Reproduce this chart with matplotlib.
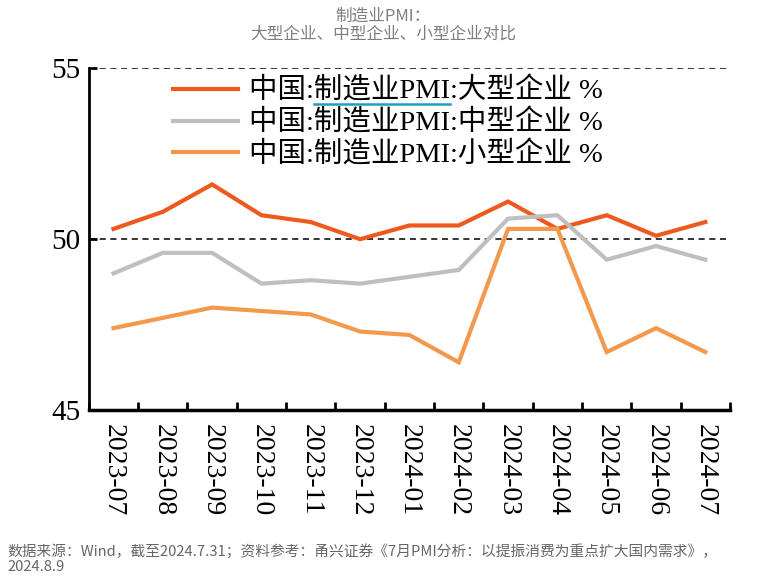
import matplotlib.pyplot as plt
from matplotlib.lines import Line2D

plt.rcParams['font.family'] = ['Liberation Serif', 'Noto Sans CJK SC']

# ---------- Data ----------
months = ["2023-07", "2023-08", "2023-09", "2023-10", "2023-11", "2023-12", "2024-01",
          "2024-02", "2024-03", "2024-04", "2024-05", "2024-06", "2024-07"]
large = [50.3, 50.8, 51.6, 50.7, 50.5, 50.0, 50.4, 50.4, 51.1, 50.3, 50.7, 50.1, 50.5]
medium = [49.0, 49.6, 49.6, 48.7, 48.8, 48.7, 48.9, 49.1, 50.6, 50.7, 49.4, 49.8, 49.4]
small = [47.4, 47.7, 48.0, 47.9, 47.8, 47.3, 47.2, 46.4, 50.3, 50.3, 46.7, 47.4, 46.7]
labels = ["中国:制造业PMI:大型企业 %", "中国:制造业PMI:中型企业 %", "中国:制造业PMI:小型企业 %"]
colors = ["#EE5A1E", "#BFBFBF", "#F2994E"]

title = "制造业PMI：\n大型企业、中型企业、小型企业对比"
source = "数据来源：Wind，截至2024.7.31；资料参考：甬兴证券《7月PMI分析：以提振消费为重点扩大国内需求》，\n2024.8.9"

# ---------- Plot ----------
fig = plt.figure(figsize=(7.66, 5.77), dpi=100)
ax = fig.add_axes([0.116, 0.289, 0.837, 0.593])

x = list(range(len(months)))
for ys, lab, c in zip([large, medium, small], labels, colors):
    ax.plot(x, ys, color=c, lw=3, label=lab, solid_joinstyle="miter")

for yv in (50, 55):
    ax.axhline(yv, color="black", lw=1.1, ls=(0, (4, 3)), zorder=0)

ax.set_xlim(-0.5, 12.5)
ax.set_ylim(45, 55)
ax.set_yticks([45, 50, 55])
ax.set_yticklabels(["45", "50", "55"], fontsize=21)
ax.set_xticks(x)
ax.set_xticklabels(months, rotation=270, fontsize=20)
ax.tick_params(axis="x", which="major", length=0, pad=10)
ax.set_xticks([i + 0.5 for i in range(-1, len(months))], minor=True)
ax.tick_params(axis="x", which="minor", direction="in", length=6, width=2)
ax.tick_params(axis="y", direction="in", length=6, width=2, pad=6)

for s in ("top", "right"):
    ax.spines[s].set_visible(False)
ax.spines["left"].set_linewidth(2)
ax.spines["bottom"].set_linewidth(2.5)

leg = ax.legend(loc="upper left", bbox_to_anchor=(0.113, 1.005), frameon=False,
                fontsize=20.5, handlelength=2.3, handletextpad=0.38, labelspacing=0.16,
                borderaxespad=0)

# link-style underline under "制造业PMI" of the first legend entry
fig.canvas.draw()
r = fig.canvas.get_renderer()
t0 = leg.get_texts()[0]
bb = t0.get_window_extent(r)
def _w(s):
    tmp = fig.text(0, 0, s, fontproperties=t0.get_fontproperties())
    w = tmp.get_window_extent(r).width
    tmp.remove()
    return w
x0 = bb.x0 + _w("中国:")
x1 = bb.x0 + _w("中国:制造业PMI")
yu = bb.y0 + 1
fig.add_artist(Line2D([x0 / fig.bbox.width, x1 / fig.bbox.width],
                      [yu / fig.bbox.height, yu / fig.bbox.height],
                      color="#1E9FBF", lw=1.8))

fig.text(0.5, 0.986, title, ha="center", va="top", fontsize=12, color="#7F7F7F",
         family=["Noto Sans CJK SC"], linespacing=1.05)
fig.text(0.01, 0.005, source, ha="left", va="bottom", fontsize=10.6, color="#666666",
         family=["Noto Sans CJK SC"], linespacing=1.15)

fig.savefig("out.png", dpi=100)
